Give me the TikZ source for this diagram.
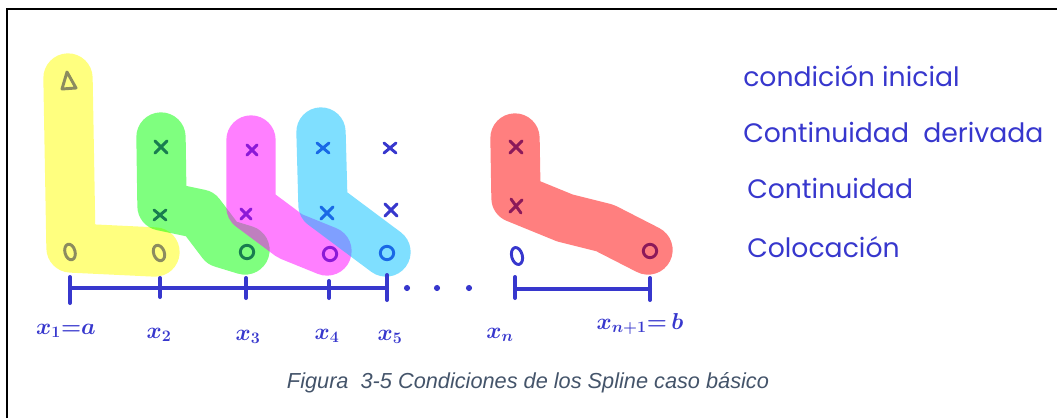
\documentclass[tikz,border=0pt]{standalone}
\usepackage{fontspec}
\setsansfont{Liberation Sans}
\newfontfamily\handfont{Poppins}
\definecolor{hlyellow}{RGB}{255,255,0}
\definecolor{hlgreen}{RGB}{0,255,0}
\definecolor{hlmagenta}{RGB}{255,0,255}
\definecolor{hlcyan}{RGB}{0,192,255}
\definecolor{hlred}{RGB}{255,0,0}
\definecolor{mkyellow}{RGB}{140,140,95}
\definecolor{mkgreen}{RGB}{25,125,80}
\definecolor{mkmagenta}{RGB}{140,25,215}
\definecolor{mkcyan}{RGB}{25,105,230}
\definecolor{mkred}{RGB}{140,25,90}
\definecolor{inkblue}{RGB}{55,55,205}
\definecolor{capgray}{RGB}{68,84,106}
\begin{document}
\begin{tikzpicture}[x=0.75pt,y=-0.75pt,
    hl/.style={line width=37pt,line cap=round,line join=round,draw opacity=0.5},
    mk/.style={line width=2.2pt,line cap=round,line join=round},
    inkline/.style={draw=inkblue,line width=3pt,line cap=round},
    lab/.style={text=inkblue,font=\fontsize{17}{17}\selectfont\boldmath,inner sep=0pt},
    legend/.style={text=inkblue,font=\handfont\fontsize{20}{20}\selectfont,inner sep=0pt,anchor=west},
    caption/.style={text=capgray,font=\sffamily\itshape\fontsize{16.3}{16}\selectfont,inner sep=0pt}]
    \useasboundingbox (0,0) rectangle (1057,418);
    \draw[line width=1.5pt] (7,418) -- (7,9) -- (1057,9);

    % highlighter strokes
    \draw[hl,hlyellow] (68,78) -- (71,248) -- (155,252);
    \draw[hl,hlgreen] (161,137) -- (162,206) -- (200,214) -- (222,243) -- (245,250);
    \draw[hl,hlmagenta] (251,140) -- (251,207) -- (290,236) -- (327,251);
    \draw[hl,hlcyan] (321,132) -- (323,205) -- (386,252);
    \draw[hl,hlred] (515,138) -- (516,198) -- (565,218) -- (605,228) -- (648,250);

    % marks
    \draw[mk,mkyellow] (67,72) -- (62,89) -- (76,88) -- cycle;
    \draw[mk,mkyellow,rotate around={15:(70,252)}] (70,252) ellipse[x radius=3.8pt,y radius=6pt];
    \draw[mk,mkyellow,rotate around={20:(159,253)}] (159,253) ellipse[x radius=4pt,y radius=6pt];

    \draw[mk,mkgreen] (161,147) +(-6,-6) -- +(6,6) +(6,-6) -- +(-6,6);
    \draw[mk,mkgreen] (160,215) +(-6,-5) -- +(6,5) +(6,-5) -- +(-6,5);
    \draw[mk,mkgreen] (247,252) circle[radius=5pt];

    \draw[mk,mkmagenta] (252,150) +(-5,-5) -- +(5,5) +(5,-5) -- +(-5,5);
    \draw[mk,mkmagenta] (246,214) +(-5,-5) -- +(5,5) +(5,-5) -- +(-5,5);
    \draw[mk,mkmagenta] (330,254) circle[radius=5pt];

    \draw[mk,mkcyan] (323,148) +(-6,-5) -- +(6,5) +(6,-5) -- +(-6,5);
    \draw[mk,mkcyan] (327,213) +(-6,-6) -- +(6,6) +(6,-6) -- +(-6,6);
    \draw[mk,mkcyan] (387,253) circle[radius=5pt];

    \draw[mk,inkblue] (390,148) +(-6,-5) -- +(6,5) +(6,-5) -- +(-6,5);
    \draw[mk,inkblue] (391,210) +(-6,-6) -- +(6,6) +(6,-6) -- +(-6,6);

    \draw[mk,mkred] (516,147) +(-6,-6) -- +(6,6) +(6,-6) -- +(-6,6);
    \draw[mk,mkred] (516,206) +(-5,-7) -- +(5,7) +(6,-6) -- +(-6,6);
    \draw[mk,mkred] (650,251) circle[radius=5pt];
    \draw[mk,inkblue,rotate around={15:(517,256)}] (517,256) ellipse[x radius=4pt,y radius=6.5pt];

    % number line
    \coordinate (k1) at (70,288);
    \coordinate (k2) at (160,288);
    \coordinate (k3) at (246,288);
    \coordinate (k4) at (329,288);
    \coordinate (k5) at (387,288);
    \coordinate (kn) at (515,289);
    \coordinate (kn1) at (650,289);
    \draw[inkline] (k1) -- (k5);
    \draw[inkline] (kn) -- (kn1);
    \draw[inkline] (k1) +(0,-11) -- +(0,15);
    \draw[inkline] (k2) +(0,-10) -- +(0,9);
    \draw[inkline] (k3) +(0,-10) -- +(0,10);
    \draw[inkline] (k4) +(0,-7) -- +(0,10);
    \draw[inkline] (k5) +(0,-13) -- +(0,12);
    \draw[inkline] (kn) +(0,-12) -- +(0,9);
    \draw[inkline] (kn1) +(0,-11) -- +(0,11);
    \fill[inkblue] (407,288) circle[radius=2.3pt] (437,288) circle[radius=2.3pt] (469,288) circle[radius=2.3pt];

    \node[lab] (l1) at (66,331) {$x_1{=}a$};
    \node[lab] (l2) at (159,335) {$x_2$};
    \node[lab] (l3) at (248,337) {$x_3$};
    \node[lab] (l4) at (327,336) {$x_4$};
    \node[lab] (l5) at (390,337) {$x_5$};
    \node[lab] (ln) at (500,335) {$x_n$};
    \node[lab] (ln1) at (640,324) {$x_{n+1}{=}\,b$};

    % legend
    \node[legend] (cini) at (743,76) {condición inicial};
    \node[legend] (cder) at (743,132) {Continuidad\ \ derivada};
    \node[legend] (ccon) at (747,188) {Continuidad};
    \node[legend] (ccol) at (747,247) {Colocación};

    \node[caption] (cap) at (528,383) {Figura\ \ 3-5 Condiciones de los Spline caso básico};
\end{tikzpicture}
\end{document}
